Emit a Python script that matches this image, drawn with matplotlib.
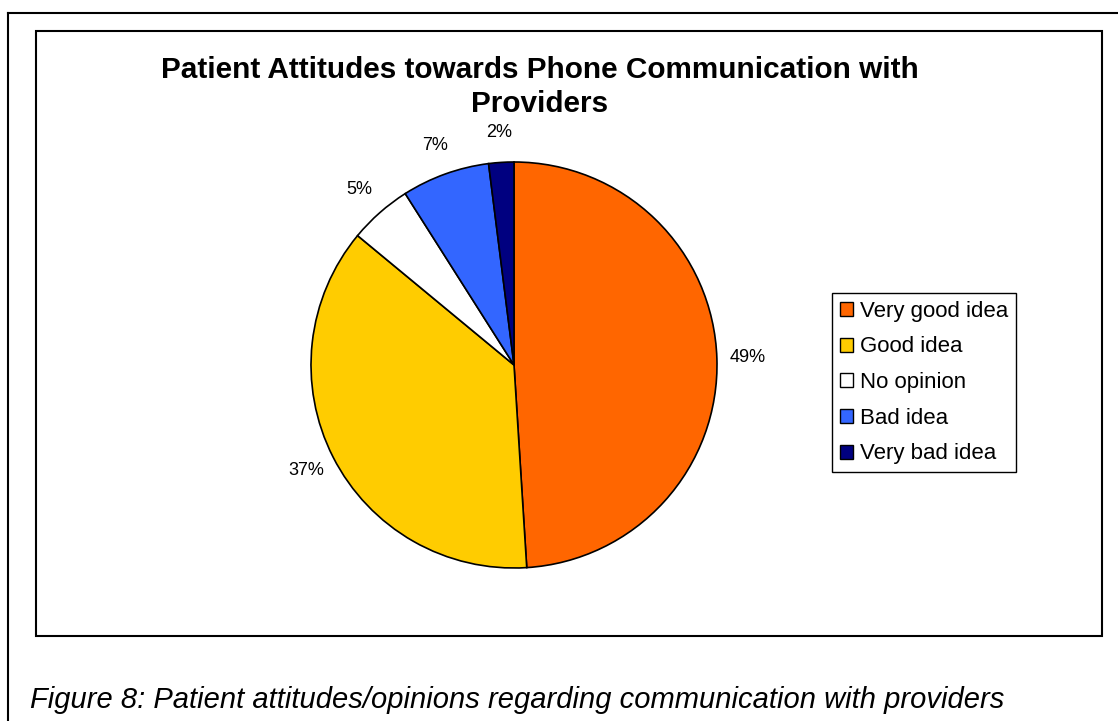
import numpy as np
import matplotlib.pyplot as plt
from matplotlib.patches import Rectangle, Patch
from matplotlib.lines import Line2D

plt.rcParams['font.family'] = ['Liberation Sans', 'DejaVu Sans']

# survey responses (percent of patients)
categories = ['Very good idea', 'Good idea', 'No opinion', 'Bad idea', 'Very bad idea']
shares = [49, 37, 5, 7, 2]
colors = ['#FF6600', '#FFCC00', '#FFFFFF', '#3366FF', '#000080']

W, H = 1118, 721
fig = plt.figure(figsize=(W / 100, H / 100), dpi=100)

# page frame (only top and left visible) and chart-area box
fig.add_artist(Line2D([8 / W, 8 / W], [0, 1 - 13 / H], transform=fig.transFigure,
                      color='black', lw=1.5))
fig.add_artist(Line2D([8 / W, 1], [1 - 13 / H, 1 - 13 / H], transform=fig.transFigure,
                      color='black', lw=1.5))
fig.add_artist(Rectangle((36 / W, 1 - 636 / H), (1102 - 36) / W, (636 - 31) / H,
                         transform=fig.transFigure, fill=False, ec='black', lw=1.5))

# pie centred at (514, 365) px, radius 203 px
cx, cy, r = 514, 365, 203
ax = fig.add_axes([(cx - r) / W, 1 - (cy + r) / H, 2 * r / W, 2 * r / H])
wedges, _ = ax.pie(shares, colors=colors, startangle=90, counterclock=False,
                   wedgeprops=dict(edgecolor='black', linewidth=1.2))
ax.set_xlim(-1, 1)
ax.set_ylim(-1, 1)
ax.axis('off')

# percentage labels just outside each slice
start = 90.0
for v in shares:
    mid = np.deg2rad(start - v * 3.6 / 2)
    ax.text(1.15 * np.cos(mid), 1.15 * np.sin(mid), f'{v}%', ha='center', va='center',
            fontsize=13, clip_on=False)
    start -= v * 3.6

fig.text(540 / W, 1 - 87 / H, 'Patient Attitudes towards Phone Communication with\nProviders',
         ha='center', va='center', fontsize=21.4, fontweight='bold', linespacing=1.28)

handles = [Patch(facecolor=c, edgecolor='black', linewidth=1) for c in colors]
fig.legend(handles, categories, loc='upper left', bbox_to_anchor=(832 / W, 1 - 293 / H),
           fontsize=16, frameon=True, fancybox=False, edgecolor='black', framealpha=1,
           handlelength=0.6, handleheight=0.6, handletextpad=0.32, borderpad=0.35,
           labelspacing=0.66, borderaxespad=0)

fig.text(30 / W, 1 - 700 / H,
         'Figure 8: Patient attitudes/opinions regarding communication with providers',
         ha='left', va='center', fontsize=21, style='italic')

fig.savefig('out.png', dpi=100)
